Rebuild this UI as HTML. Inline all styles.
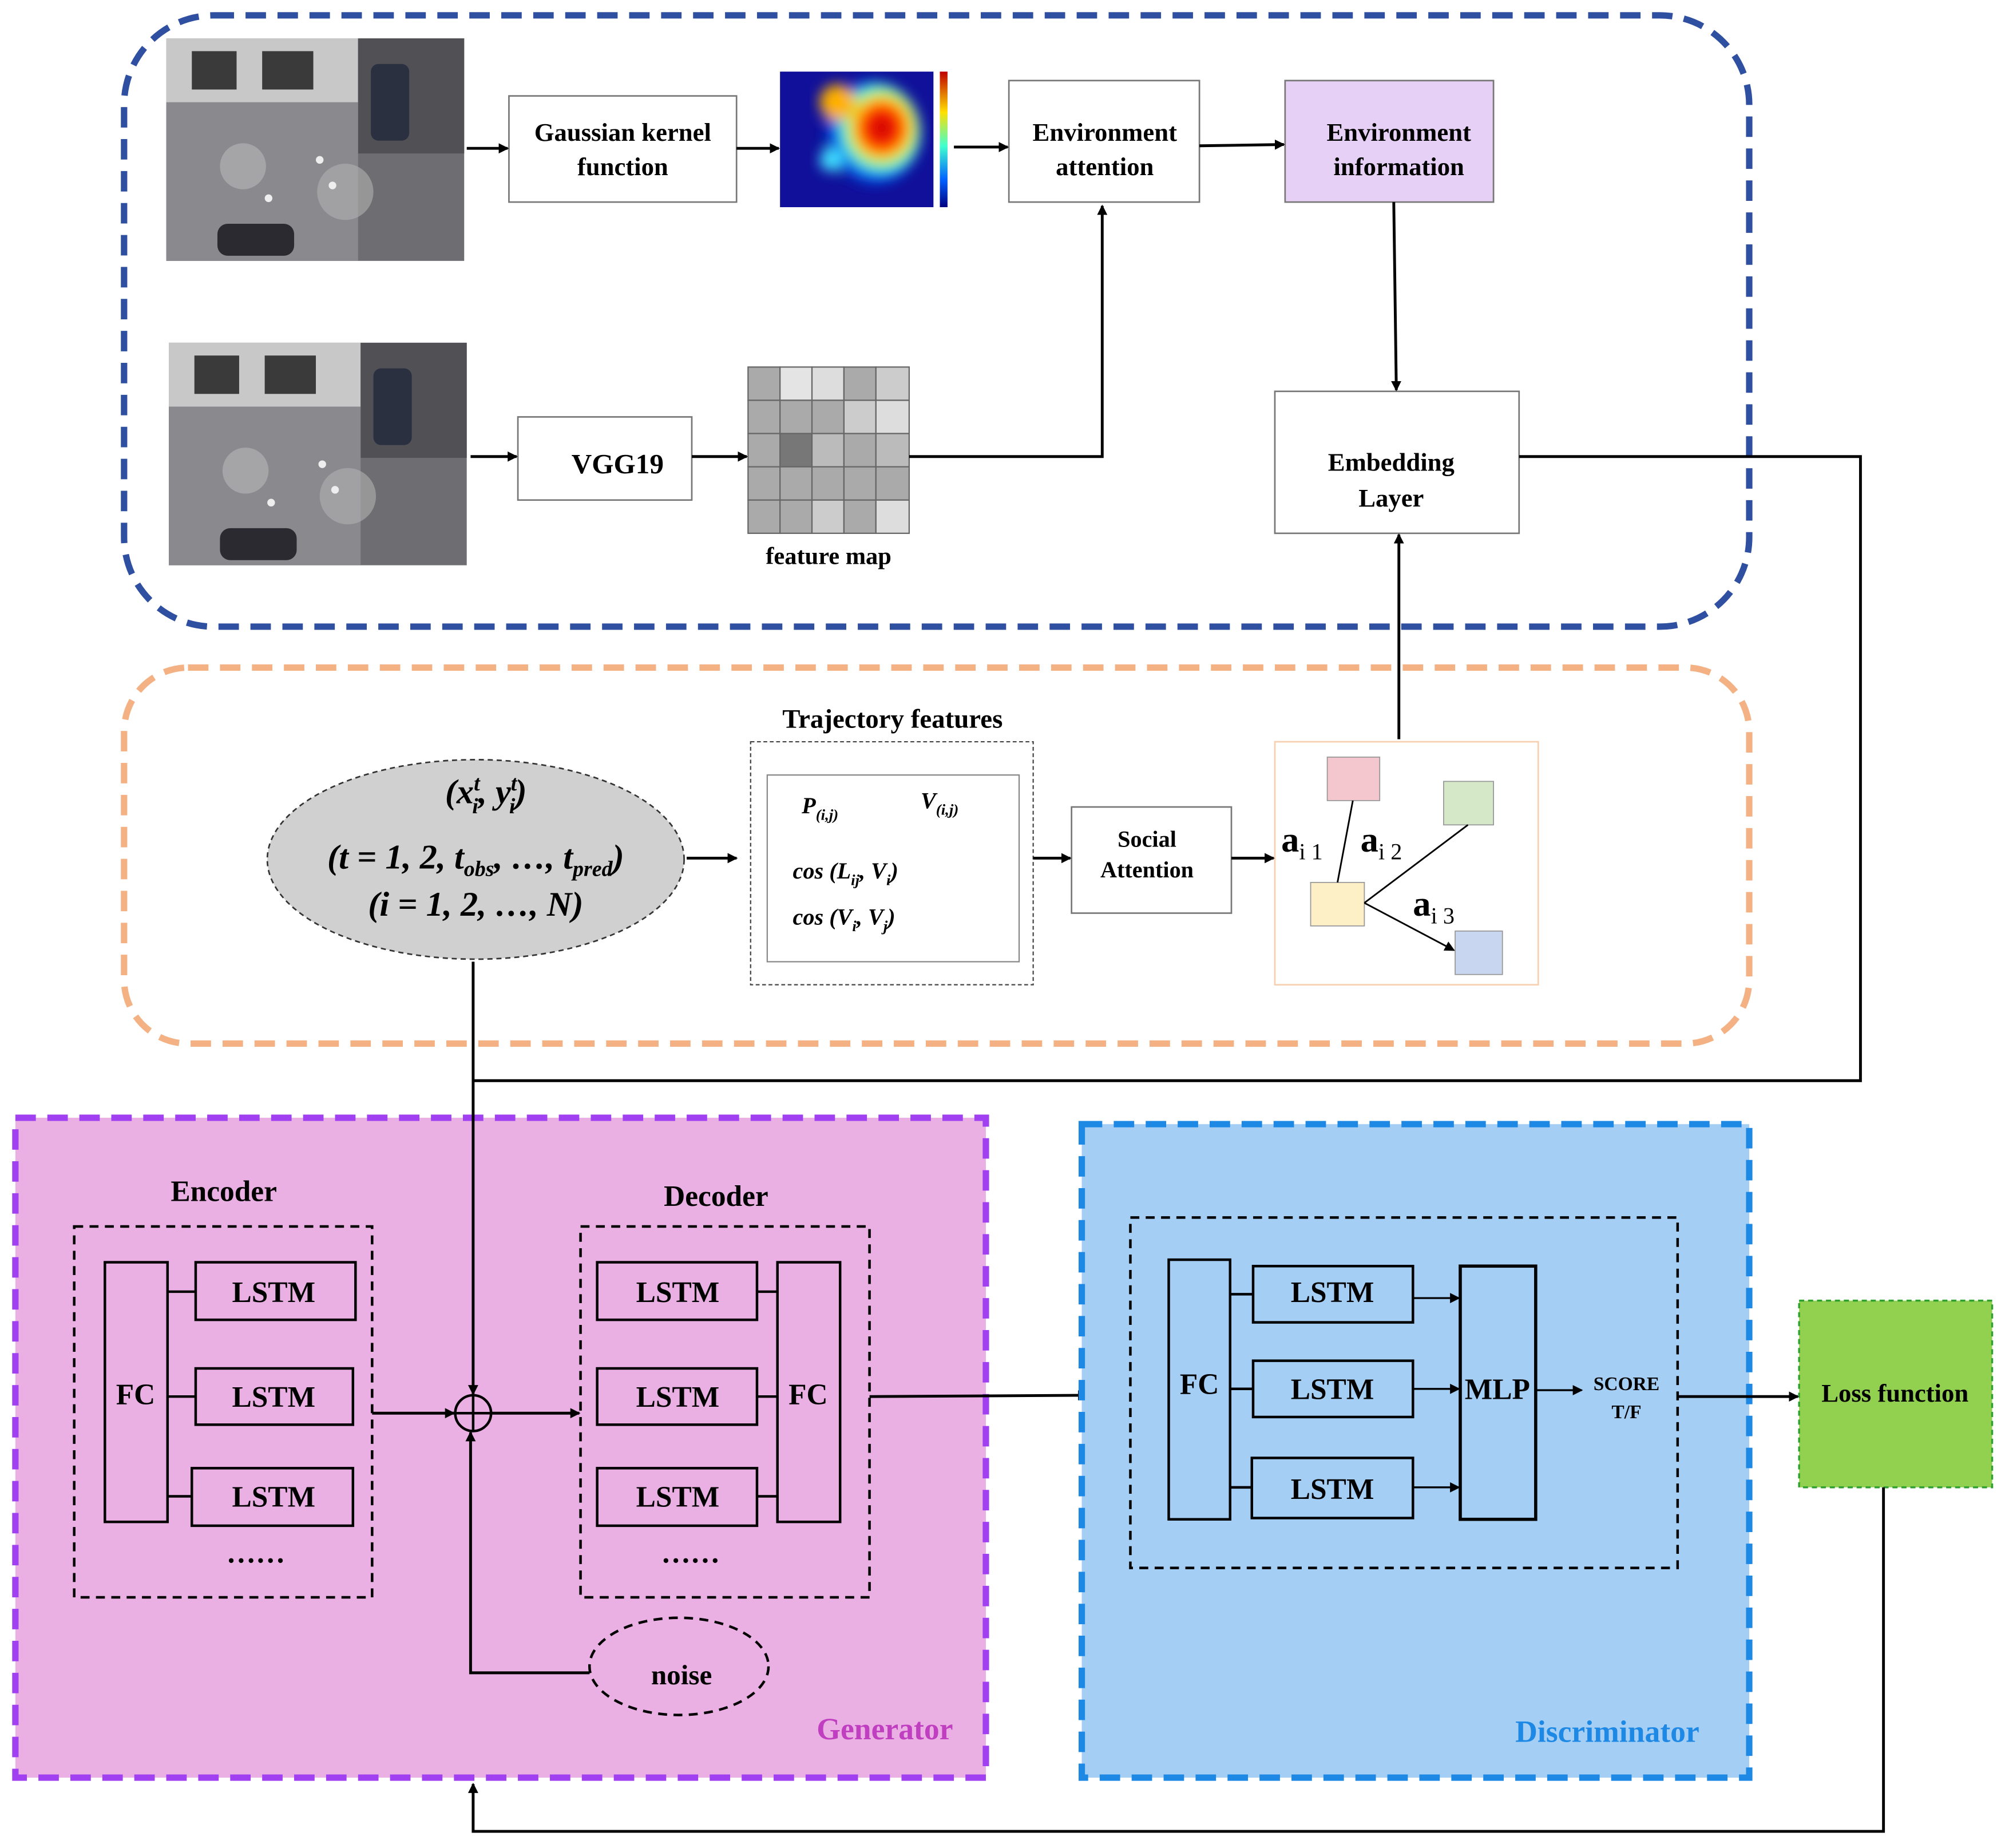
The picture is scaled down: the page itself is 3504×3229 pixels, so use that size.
<!DOCTYPE html>
<html><head><meta charset="utf-8"><style>
html,body{margin:0;padding:0;background:#fff;}
svg{display:block;}
text{font-family:"Liberation Serif",serif;font-weight:bold;}
</style></head><body>
<svg width="3504" height="3229" viewBox="0 0 1568 1445" xmlns="http://www.w3.org/2000/svg">
<defs>
<marker id="ar" markerWidth="8" markerHeight="8" refX="7" refY="4" orient="auto" markerUnits="userSpaceOnUse"><path d="M0,0 L8,4 L0,8 z" fill="#000"/></marker>
<radialGradient id="hm" cx="0.6" cy="0.45" r="0.6"><stop offset="0" stop-color="#c00000"/><stop offset="0.3" stop-color="#ff2000"/><stop offset="0.5" stop-color="#ffe000"/><stop offset="0.65" stop-color="#40ffd0"/><stop offset="0.8" stop-color="#0060ff"/><stop offset="1" stop-color="#10109a"/></radialGradient>
<linearGradient id="cb" x1="0" y1="0" x2="0" y2="1"><stop offset="0" stop-color="#c00000"/><stop offset="0.3" stop-color="#ffe000"/><stop offset="0.55" stop-color="#40ffd0"/><stop offset="0.8" stop-color="#0060ff"/><stop offset="1" stop-color="#000080"/></linearGradient>
<filter id="bl"><feGaussianBlur stdDeviation="5"/></filter>
<g id="photo">
<rect width="233" height="174" fill="#6e6e72"/>
<rect x="0" y="0" width="150" height="50" fill="#c8c8c8"/>
<rect x="20" y="10" width="35" height="30" fill="#3a3a3a"/><rect x="75" y="10" width="40" height="30" fill="#3a3a3a"/>
<rect x="150" y="0" width="83" height="90" fill="#505055"/>
<rect x="160" y="20" width="30" height="60" fill="#2a3040" rx="6"/>
<rect x="0" y="50" width="150" height="124" fill="#8a8a8e"/>
<circle cx="60" cy="100" r="18" fill="#b8b8b8" opacity="0.6"/><circle cx="140" cy="120" r="22" fill="#b0b0b0" opacity="0.6"/>
<rect x="40" y="145" width="60" height="25" fill="#2a2a30" rx="8"/>
<circle cx="120" cy="95" r="3" fill="#eee"/><circle cx="130" cy="115" r="3" fill="#eee"/><circle cx="80" cy="125" r="3" fill="#eee"/>
</g>
</defs>

<!-- Top blue dashed group -->
<rect x="97" y="12" width="1271" height="478" rx="70" fill="none" stroke="#2f4fa0" stroke-width="5" stroke-dasharray="16,9"/>
<use href="#photo" x="130" y="30"/>
<use href="#photo" x="132" y="268"/>

<rect x="398" y="75" width="178" height="83" fill="#fff" stroke="#777" stroke-width="1.2"/>
<text x="487" y="110" font-size="20" text-anchor="middle">Gaussian kernel</text>
<text x="487" y="137" font-size="20" text-anchor="middle">function</text>

<rect x="610" y="56" width="120" height="106" fill="#10109a"/>
<g filter="url(#bl)"><ellipse cx="682" cy="104" rx="38" ry="40" fill="url(#hm)"/><circle cx="655" cy="80" r="14" fill="#ffb000"/><circle cx="650" cy="125" r="9" fill="#40e0ff"/></g>
<rect x="735" y="56" width="6" height="106" fill="url(#cb)"/>

<rect x="789" y="63" width="149" height="95" fill="#fff" stroke="#777" stroke-width="1.2"/>
<text x="864" y="110" font-size="20" text-anchor="middle">Environment</text>
<text x="864" y="137" font-size="20" text-anchor="middle">attention</text>

<rect x="1005" y="63" width="163" height="95" fill="#e6d0f5" stroke="#777" stroke-width="1.2"/>
<text x="1094" y="110" font-size="20" text-anchor="middle">Environment</text>
<text x="1094" y="137" font-size="20" text-anchor="middle">information</text>

<rect x="405" y="326" width="136" height="65" fill="#fff" stroke="#777" stroke-width="1.2"/>
<text x="483" y="370" font-size="22" text-anchor="middle">VGG19</text>

<g stroke="#666" stroke-width="1">
<rect x="585" y="287" width="25" height="26" fill="#aaa"/><rect x="610" y="287" width="25" height="26" fill="#e4e4e4"/><rect x="635" y="287" width="25" height="26" fill="#ddd"/><rect x="660" y="287" width="25" height="26" fill="#aaa"/><rect x="685" y="287" width="26" height="26" fill="#ccc"/>
<rect x="585" y="313" width="25" height="26" fill="#aaa"/><rect x="610" y="313" width="25" height="26" fill="#aaa"/><rect x="635" y="313" width="25" height="26" fill="#aaa"/><rect x="660" y="313" width="25" height="26" fill="#ccc"/><rect x="685" y="313" width="26" height="26" fill="#ddd"/>
<rect x="585" y="339" width="25" height="26" fill="#aaa"/><rect x="610" y="339" width="25" height="26" fill="#777"/><rect x="635" y="339" width="25" height="26" fill="#bbb"/><rect x="660" y="339" width="25" height="26" fill="#aaa"/><rect x="685" y="339" width="26" height="26" fill="#bbb"/>
<rect x="585" y="365" width="25" height="26" fill="#aaa"/><rect x="610" y="365" width="25" height="26" fill="#aaa"/><rect x="635" y="365" width="25" height="26" fill="#aaa"/><rect x="660" y="365" width="25" height="26" fill="#aaa"/><rect x="685" y="365" width="26" height="26" fill="#aaa"/>
<rect x="585" y="391" width="25" height="26" fill="#aaa"/><rect x="610" y="391" width="25" height="26" fill="#aaa"/><rect x="635" y="391" width="25" height="26" fill="#ccc"/><rect x="660" y="391" width="25" height="26" fill="#aaa"/><rect x="685" y="391" width="26" height="26" fill="#ddd"/>
</g>
<text x="648" y="441" font-size="19" text-anchor="middle">feature map</text>

<rect x="997" y="306" width="191" height="111" fill="#fff" stroke="#777" stroke-width="1.2"/>
<text x="1088" y="368" font-size="20" text-anchor="middle">Embedding</text>
<text x="1088" y="396" font-size="20" text-anchor="middle">Layer</text>

<g stroke="#000" stroke-width="2.2" fill="none">
<line x1="365" y1="116" x2="397" y2="116" marker-end="url(#ar)"/>
<line x1="576" y1="116" x2="609" y2="116" marker-end="url(#ar)"/>
<line x1="746" y1="115" x2="788" y2="115" marker-end="url(#ar)"/>
<line x1="938" y1="114" x2="1004" y2="113" marker-end="url(#ar)"/>
<line x1="1090" y1="158" x2="1092" y2="305" marker-end="url(#ar)"/>
<line x1="368" y1="357" x2="404" y2="357" marker-end="url(#ar)"/>
<line x1="541" y1="357" x2="584" y2="357" marker-end="url(#ar)"/>
<polyline points="711,357 862,357 862,161" marker-end="url(#ar)"/>
<polyline points="1188,357 1455,357 1455,845 370,845"/>
</g>

<!-- Orange dashed group -->
<rect x="97" y="522" width="1271" height="294" rx="50" fill="none" stroke="#f4b183" stroke-width="5" stroke-dasharray="16,9"/>
<ellipse cx="372" cy="672" rx="163" ry="78" fill="#d0d0d0" stroke="#333" stroke-width="1.2" stroke-dasharray="4,3"/>
<g font-family="Liberation Serif,serif" font-size="27" text-anchor="middle" font-style="italic">
<text x="380" y="628">(x<tspan font-size="17" dy="-10">t</tspan><tspan font-size="17" dy="18" dx="-6">i</tspan><tspan dy="-8">, y</tspan><tspan font-size="17" dy="-10">t</tspan><tspan font-size="17" dy="18" dx="-6">i</tspan><tspan dy="-8">)</tspan></text>
<text x="372" y="679">(t = 1, 2, t<tspan font-size="17" dy="6">obs</tspan><tspan dy="-6">, …, t</tspan><tspan font-size="17" dy="6">pred</tspan><tspan dy="-6">)</tspan></text>
<text x="372" y="716">(i = 1, 2, …, N)</text>
</g>

<text x="698" y="569" font-size="21" text-anchor="middle">Trajectory features</text>
<rect x="587" y="580" width="221" height="190" fill="#fff" stroke="#444" stroke-width="1" stroke-dasharray="3,2"/>
<rect x="600" y="606" width="197" height="146" fill="#fff" stroke="#888" stroke-width="1"/>
<g font-size="18" font-style="italic">
<text x="627" y="636">P<tspan font-size="12" dy="5">(i,j)</tspan></text>
<text x="720" y="632">V<tspan font-size="12" dy="5">(i,j)</tspan></text>
<text x="620" y="687">cos  (L<tspan font-size="12" dy="5">ij</tspan><tspan dy="-5">,  V</tspan><tspan font-size="12" dy="5">i</tspan><tspan dy="-5">)</tspan></text>
<text x="620" y="723">cos  (V<tspan font-size="12" dy="5">i</tspan><tspan dy="-5">,  V</tspan><tspan font-size="12" dy="5">j</tspan><tspan dy="-5">)</tspan></text>
</g>

<rect x="838" y="631" width="125" height="83" fill="#fff" stroke="#777" stroke-width="1.2"/>
<text x="897" y="662" font-size="18" text-anchor="middle">Social</text>
<text x="897" y="686" font-size="18" text-anchor="middle">Attention</text>

<rect x="997" y="580" width="206" height="190" fill="#fff" stroke="#f8d0b0" stroke-width="1.2"/>
<rect x="1038" y="592" width="41" height="34" fill="#f4c7cf" stroke="#999" stroke-width="0.8"/>
<rect x="1129" y="611" width="39" height="34" fill="#d5e8c7" stroke="#999" stroke-width="0.8"/>
<rect x="1025" y="690" width="42" height="34" fill="#fdf0c7" stroke="#999" stroke-width="0.8"/>
<rect x="1138" y="728" width="37" height="34" fill="#c9d6ef" stroke="#999" stroke-width="0.8"/>
<g stroke="#000" stroke-width="1.3" fill="none">
<line x1="1046" y1="690" x2="1058" y2="626"/>
<line x1="1067" y1="706" x2="1148" y2="645"/>
<line x1="1067" y1="706" x2="1137" y2="743" marker-end="url(#ar)"/>
</g>
<g font-family="Liberation Sans,sans-serif" font-weight="bold">
<text x="1002" y="666" font-size="28">a<tspan font-size="18" font-weight="normal" dy="6">i 1</tspan></text>
<text x="1064" y="666" font-size="28">a<tspan font-size="18" font-weight="normal" dy="6">i 2</tspan></text>
<text x="1105" y="716" font-size="28">a<tspan font-size="18" font-weight="normal" dy="6">i 3</tspan></text>
</g>

<g stroke="#000" stroke-width="2.2" fill="none">
<line x1="537" y1="671" x2="576" y2="671" marker-end="url(#ar)"/>
<line x1="808" y1="671" x2="837" y2="671" marker-end="url(#ar)"/>
<line x1="963" y1="671" x2="996" y2="671" marker-end="url(#ar)"/>
<line x1="1094" y1="578" x2="1094" y2="418" marker-end="url(#ar)"/>
</g>

<!-- Generator -->
<rect x="12" y="874" width="759" height="516" fill="#ebb0e3" stroke="#a040f0" stroke-width="5" stroke-dasharray="16,9"/>
<text x="175" y="939" font-size="23" text-anchor="middle">Encoder</text>
<rect x="58" y="959" width="233" height="290" fill="none" stroke="#000" stroke-width="2" stroke-dasharray="7,5"/>
<g fill="none" stroke="#000" stroke-width="2">
<rect x="82" y="987" width="49" height="203"/>
<rect x="153" y="987" width="125" height="45"/>
<rect x="153" y="1070" width="123" height="44"/>
<rect x="150" y="1148" width="126" height="45"/>
<line x1="131" y1="1010" x2="153" y2="1010"/><line x1="131" y1="1092" x2="153" y2="1092"/><line x1="131" y1="1170" x2="150" y2="1170"/>
</g>
<g font-size="23" text-anchor="middle">
<text x="106" y="1098">FC</text>
<text x="214" y="1018">LSTM</text><text x="214" y="1100">LSTM</text><text x="214" y="1178">LSTM</text>
<text x="200" y="1222">……</text>
</g>

<text x="560" y="943" font-size="23" text-anchor="middle">Decoder</text>
<rect x="454" y="959" width="226" height="290" fill="none" stroke="#000" stroke-width="2" stroke-dasharray="7,5"/>
<g fill="none" stroke="#000" stroke-width="2">
<rect x="608" y="987" width="49" height="203"/>
<rect x="467" y="987" width="125" height="45"/>
<rect x="467" y="1070" width="125" height="44"/>
<rect x="467" y="1148" width="125" height="45"/>
<line x1="592" y1="1010" x2="608" y2="1010"/><line x1="592" y1="1092" x2="608" y2="1092"/><line x1="592" y1="1170" x2="608" y2="1170"/>
</g>
<g font-size="23" text-anchor="middle">
<text x="632" y="1098">FC</text>
<text x="530" y="1018">LSTM</text><text x="530" y="1100">LSTM</text><text x="530" y="1178">LSTM</text>
<text x="540" y="1222">……</text>
</g>

<circle cx="370" cy="1105" r="14" fill="none" stroke="#000" stroke-width="2"/>
<line x1="356" y1="1105" x2="384" y2="1105" stroke="#000" stroke-width="2"/>
<line x1="370" y1="1091" x2="370" y2="1119" stroke="#000" stroke-width="2"/>
<ellipse cx="531" cy="1303" rx="70" ry="38" fill="none" stroke="#000" stroke-width="2" stroke-dasharray="7,5"/>
<text x="533" y="1317" font-size="22" text-anchor="middle">noise</text>
<text x="692" y="1360" font-size="24" text-anchor="middle" fill="#c03fc0">Generator</text>

<g stroke="#000" stroke-width="2.2" fill="none">
<line x1="370" y1="752" x2="370" y2="1090" marker-end="url(#ar)"/>
<line x1="291" y1="1105" x2="355" y2="1105" marker-end="url(#ar)"/>
<line x1="384" y1="1105" x2="453" y2="1105" marker-end="url(#ar)"/>
<polyline points="461,1308 368,1308 368,1120" marker-end="url(#ar)"/>
<line x1="680" y1="1092" x2="850" y2="1091" marker-end="url(#ar)"/>
</g>

<!-- Discriminator -->
<rect x="846" y="879" width="522" height="511" fill="#a5cef5" stroke="#1e88e5" stroke-width="5" stroke-dasharray="16,9"/>
<rect x="884" y="952" width="428" height="274" fill="none" stroke="#000" stroke-width="2" stroke-dasharray="7,5"/>
<g fill="none" stroke="#000" stroke-width="2">
<rect x="914" y="985" width="48" height="203"/>
<rect x="980" y="990" width="125" height="44"/>
<rect x="980" y="1064" width="125" height="44"/>
<rect x="979" y="1140" width="126" height="47"/>
<rect x="1142" y="990" width="59" height="198" stroke-width="2.5"/>
<line x1="962" y1="1012" x2="980" y2="1012"/><line x1="962" y1="1086" x2="980" y2="1086"/><line x1="962" y1="1163" x2="979" y2="1163"/>
</g>
<g stroke="#000" stroke-width="1.5" fill="none">
<line x1="1105" y1="1015" x2="1141" y2="1015" marker-end="url(#ar)"/>
<line x1="1105" y1="1086" x2="1141" y2="1086" marker-end="url(#ar)"/>
<line x1="1105" y1="1163" x2="1141" y2="1163" marker-end="url(#ar)"/>
<line x1="1201" y1="1087" x2="1237" y2="1087" marker-end="url(#ar)"/>
</g>
<g font-size="23" text-anchor="middle">
<text x="938" y="1090">FC</text>
<text x="1042" y="1018">LSTM</text><text x="1042" y="1094">LSTM</text><text x="1042" y="1172">LSTM</text>
</g>
<text x="1171" y="1094" font-size="23" text-anchor="middle" font-weight="normal" font-family="Liberation Serif,serif">MLP</text>
<text x="1272" y="1087" font-size="15" text-anchor="middle">SCORE</text>
<text x="1272" y="1109" font-size="15" text-anchor="middle">T/F</text>
<text x="1257" y="1362" font-size="24" text-anchor="middle" fill="#1e88e5">Discriminator</text>

<rect x="1407" y="1017" width="151" height="146" fill="#92d050" stroke="#2ea02e" stroke-width="1.5" stroke-dasharray="4,3"/>
<text x="1482" y="1096" font-size="20" text-anchor="middle">Loss function</text>

<g stroke="#000" stroke-width="2.2" fill="none">
<line x1="1312" y1="1092" x2="1406" y2="1092" marker-end="url(#ar)"/>
<polyline points="1473,1163 1473,1432 370,1432 370,1395" marker-end="url(#ar)"/>
</g>
</svg>
</body></html>
